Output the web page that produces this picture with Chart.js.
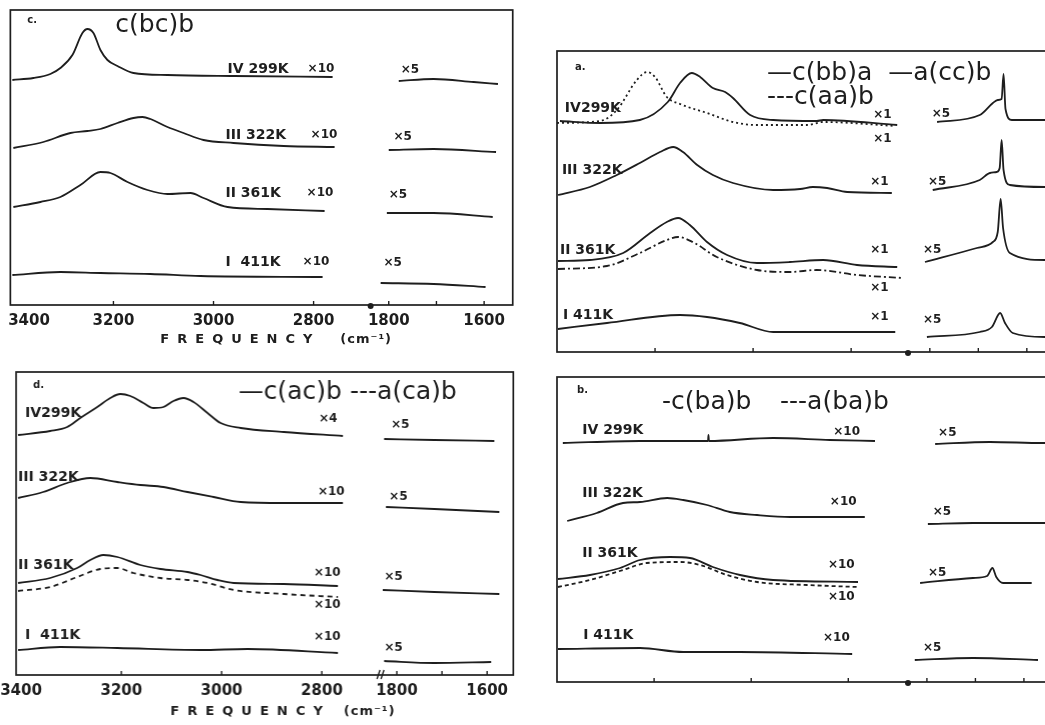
<!DOCTYPE html>
<html>
<head>
<meta charset="utf-8">
<title>Raman spectra c(bc)b, a, d, b</title>
<script src="https://cdn.jsdelivr.net/npm/chart.js@4.4.1/dist/chart.umd.min.js"></script>
<style>
  html, body { margin: 0; padding: 0; }
  body { width: 1045px; height: 725px; overflow: hidden; position: relative; background: #fff; }
  canvas { position: absolute; }
</style>
</head>
<body>
<canvas id="panel-c"></canvas>
<canvas id="panel-a"></canvas>
<canvas id="panel-d"></canvas>
<canvas id="panel-b"></canvas>
<script>
// tick values of the two parts of the broken frequency axis (cm-1)
const highTicks = [3400, 3200, 3000, 2800];
const lowTicks = [1800, 1700, 1600];

// spectra as [frequency, intensity incl. offset]
// panel c : c(bc)b
const cIV_hi = [[3402,225],[3360,227],[3326,231],[3306,237],[3282,250],[3262,272],[3252,276],[3240,272],[3226,255],[3212,245],[3192,239],[3160,232],[3092,230],[2960,229],[2762,228]];
const cIV_lo = [[1779,224],[1706,226],[1622,223],[1571,221]];
const cIII_hi = [[3400,157],[3340,163],[3286,172],[3252,174],[3226,176],[3192,182],[3160,187],[3142,188],[3126,186],[3092,178],[3060,172],[3020,165],[2960,162],[2860,159],[2758,158]];
const cIII_lo = [[1800,155],[1706,156],[1575,153]];
const cII_hi = [[3400,98],[3346,103],[3306,108],[3266,120],[3226,133],[3206,132],[3172,123],[3132,115],[3092,111],[3046,112],[3020,107],[2972,98],[2892,96],[2778,94]];
const cII_lo = [[1804,92],[1706,92],[1582,88]];
const cI_hi = [[3402,30],[3306,33],[3226,32],[3126,31],[3026,29],[2782,28]];
const cI_lo = [[1817,22],[1706,21],[1597,18]];

// panel a : c(bb)a, a(cc)b solid, c(aa)b dotted / dash-dot
const aIV_hi = [[3394,231],[3312,229],[3231,232],[3174,250],[3149,269],[3125,279],[3108,275],[3082,264],[3057,260],[3041,254],[3006,237],[2959,232],[2870,231],[2857,232],[2706,227]];
const aIVdot_hi = [[3400,229],[3312,231],[3278,242],[3237,272],[3216,280],[3200,275],[3176,255],[3149,248],[3094,239],[3041,230],[2992,227],[2890,227],[2857,230],[2710,226]];
const aIV_lo = [[1785,230],[1697,237],[1670,249],[1660,252],[1652,253],[1648,278],[1644,243],[1631,232],[1563,232],[1520,232]];
const aIII_hi = [[3398,157],[3333,165],[3278,177],[3231,189],[3190,200],[3163,205],[3143,200],[3114,187],[3082,177],[3041,169],[2959,162],[2904,163],[2878,165],[2849,164],[2808,160],[2717,159]];
const aIII_lo = [[1794,162],[1697,172],[1676,179],[1662,180],[1656,184],[1652,212],[1648,182],[1635,167],[1563,165],[1520,165]];
const aII_hi = [[3398,91],[3333,92],[3265,99],[3210,119],[3176,130],[3153,134],[3129,127],[3094,110],[3053,97],[2992,89],[2925,90],[2857,92],[2788,87],[2706,85]];
const aIIdd_hi = [[3398,83],[3298,86],[3231,99],[3176,112],[3153,115],[3123,110],[3074,95],[2992,82],[2925,80],[2870,82],[2788,77],[2694,74]];
const aII_lo = [[1810,90],[1703,104],[1670,110],[1660,120],[1654,153],[1649,124],[1635,99],[1563,92],[1520,92]];
const aI_hi = [[3398,23],[3298,29],[3149,37],[3094,35],[3027,29],[2959,20],[2710,20]];
const aI_lo = [[1806,15],[1697,20],[1672,25],[1655,39],[1645,29],[1629,19],[1563,15],[1520,15]];

// panel d : c(ac)b solid, a(ca)b dashed
const dIV_hi = [[3406,240],[3342,244],[3308,248],[3282,257],[3248,268],[3222,277],[3202,281],[3182,279],[3156,272],[3136,267],[3116,268],[3096,274],[3076,277],[3056,273],[3028,262],[3002,252],[2962,247],[2876,243],[2758,239]];
const dIV_lo = [[1828,236],[1717,235],[1584,234]];
const dIII_hi = [[3406,177],[3356,183],[3308,192],[3262,197],[3208,193],[3162,190],[3116,188],[3068,183],[3016,178],[2962,173],[2876,172],[2758,172]];
const dIII_lo = [[1824,168],[1717,166],[1573,163]];
const dII_hi = [[3406,92],[3342,97],[3288,107],[3262,115],[3236,120],[3208,118],[3162,110],[3122,106],[3068,103],[3042,100],[3008,95],[2976,92],[2876,91],[2768,89]];
const dIIdash_hi = [[3406,84],[3342,88],[3288,98],[3242,106],[3208,107],[3176,102],[3122,97],[3068,95],[3028,92],[2976,85],[2876,81],[2768,78]];
const dII_lo = [[1831,85],[1717,83],[1573,81]];
const dI_hi = [[3406,25],[3322,28],[3208,27],[3042,25],[2948,26],[2768,22]];
const dI_lo = [[1828,14],[1717,12],[1591,13]];

// panel b : c(ba)b solid, a(ba)b dashed
const bIV_hi = [[3388,239],[3229,241],[3095,241],[3089,241],[3088,247],[3087,241],[2955,244],[2838,242],[2745,241]];
const bIV_lo = [[1783,238],[1670,240],[1561,239],[1520,239]];
const bIII_hi = [[3379,161],[3318,169],[3264,179],[3229,180],[3173,184],[3140,182],[3091,177],[3044,170],[2988,167],[2920,165],[2766,165]];
const bIII_lo = [[1798,158],[1705,159],[1563,159],[1520,159]];
const bII_hi = [[3398,103],[3332,107],[3270,114],[3229,122],[3167,125],[3126,124],[3079,115],[3023,107],[2955,102],[2780,100]];
const bIIdash_hi = [[3398,95],[3332,102],[3264,112],[3215,119],[3147,120],[3105,117],[3050,107],[2988,100],[2885,97],[2780,95]];
const bII_lo = [[1814,99],[1705,104],[1676,106],[1665,114],[1657,105],[1643,99],[1584,99]];
const bI_hi = [[3398,33],[3229,34],[3140,30],[3023,30],[2792,28]];
const bI_lo = [[1825,22],[1705,24],[1571,22]];

const INK = '#1e1e1e';
const DOT = [2, 3];
const DASHDOT = [7, 3, 2, 3];
const DASH = [5, 4];

// panel layout: frame on the page, axis ranges, weights of the two axis parts
const panels = [
  {
    id: 'panel-c', box: {x: 10, y: 10, w: 502, h: 295}, hi: [2686, 3406], lo: [1540, 1838], weights: [360, 142],
    axisText: true, shiftFirst: true, breakMark: 'dot', tag: 'c.', tagPos: [17, 10],
    legend: [['c(bc)b', 105, 15]], freqPos: [150, 330, 35],
    traces: [[cIV_hi, 'xL'], [cIV_lo, 'xR'], [cIII_hi, 'xL'], [cIII_lo, 'xR'], [cII_hi, 'xL'], [cII_lo, 'xR'], [cI_hi, 'xL'], [cI_lo, 'xR']],
    labels: [
      ['IV 299K', 'xL', 2972, 236, 't'], ['×10', 'xL', 2812, 236, 'm'], ['×5', 'xR', 1775, 235, 'm'],
      ['III 322K', 'xL', 2976, 170, 't'], ['×10', 'xL', 2806, 170, 'm'], ['×5', 'xR', 1790, 168, 'm'],
      ['II 361K', 'xL', 2976, 112, 't'], ['×10', 'xL', 2814, 112, 'm'], ['×5', 'xR', 1800, 110, 'm'],
      ['I  411K', 'xL', 2976, 43, 't'], ['×10', 'xL', 2822, 43, 'm'], ['×5', 'xR', 1811, 42, 'm']
    ]
  },
  {
    id: 'panel-a', box: {x: 557, y: 51, w: 513, h: 301}, hi: [2684, 3400], lo: [1511, 1845], weights: [351, 162],
    axisText: false, breakMark: 'dot', tag: 'a.', tagPos: [18, 16],
    legend: [['—c(bb)a  —a(cc)b', 210, 22], ['---c(aa)b', 210, 46]],
    traces: [[aIV_hi, 'xL'], [aIVdot_hi, 'xL', DOT], [aIV_lo, 'xR'], [aIII_hi, 'xL'], [aIII_lo, 'xR'],
      [aII_hi, 'xL'], [aIIdd_hi, 'xL', DASHDOT], [aII_lo, 'xR'], [aI_hi, 'xL'], [aI_lo, 'xR']],
    labels: [
      ['IV299K', 'xL', 3384, 244, 't'], ['×1', 'xL', 2755, 237, 'm'], ['×1', 'xL', 2755, 213, 'm'], ['×5', 'xR', 1796, 238, 'm'],
      ['III 322K', 'xL', 3390, 182, 't'], ['×1', 'xL', 2761, 170, 'm'], ['×5', 'xR', 1804, 170, 'm'],
      ['II 361K', 'xL', 3394, 102, 't'], ['×1', 'xL', 2761, 102, 'm'], ['×1', 'xL', 2761, 64, 'm'], ['×5', 'xR', 1814, 102, 'm'],
      ['I 411K', 'xL', 3388, 37, 't'], ['×1', 'xL', 2761, 35, 'm'], ['×5', 'xR', 1814, 32, 'm']
    ]
  },
  {
    id: 'panel-d', box: {x: 16, y: 372, w: 496, h: 303}, hi: [2682, 3410], lo: [1542, 1835], weights: [364, 132],
    axisText: true, breakMark: 'slash', tag: 'd.', tagPos: [17, 13],
    legend: [['—c(ac)b ---a(ca)b', 222, 20]], freqPos: [154, 327, 37],
    traces: [[dIV_hi, 'xL'], [dIV_lo, 'xR'], [dIII_hi, 'xL'], [dIII_lo, 'xR'], [dII_hi, 'xL'], [dIIdash_hi, 'xL', DASH], [dII_lo, 'xR'], [dI_hi, 'xL'], [dI_lo, 'xR']],
    labels: [
      ['IV299K', 'xL', 3392, 262, 't'], ['×4', 'xL', 2806, 256, 'm'], ['×5', 'xR', 1813, 250, 'm'],
      ['III 322K', 'xL', 3406, 198, 't'], ['×10', 'xL', 2808, 183, 'm'], ['×5', 'xR', 1817, 178, 'm'],
      ['II 361K', 'xL', 3406, 110, 't'], ['×10', 'xL', 2816, 102, 'm'], ['×10', 'xL', 2816, 70, 'm'], ['×5', 'xR', 1828, 98, 'm'],
      ['I  411K', 'xL', 3392, 40, 't'], ['×10', 'xL', 2816, 38, 'm'], ['×5', 'xR', 1828, 27, 'm']
    ]
  },
  {
    id: 'panel-b', box: {x: 557, y: 377, w: 513, h: 305}, hi: [2677, 3400], lo: [1505, 1839], weights: [351, 162],
    axisText: false, breakMark: 'dot', tag: 'b.', tagPos: [20, 13],
    legend: [['-c(ba)b', 105, 25], ['---a(ba)b', 223, 25]],
    traces: [[bIV_hi, 'xL'], [bIV_lo, 'xR'], [bIII_hi, 'xL'], [bIII_lo, 'xR'], [bII_hi, 'xL'], [bIIdash_hi, 'xL', [4, 3]], [bII_lo, 'xR'], [bI_hi, 'xL'], [bI_lo, 'xR']],
    labels: [
      ['IV 299K', 'xL', 3348, 252, 't'], ['×10', 'xL', 2831, 250, 'm'], ['×5', 'xR', 1777, 249, 'm'],
      ['III 322K', 'xL', 3348, 189, 't'], ['×10', 'xL', 2838, 180, 'm'], ['×5', 'xR', 1788, 170, 'm'],
      ['II 361K', 'xL', 3348, 129, 't'], ['×10', 'xL', 2842, 117, 'm'], ['×10', 'xL', 2842, 85, 'm'], ['×5', 'xR', 1798, 109, 'm'],
      ['I 411K', 'xL', 3346, 47, 't'], ['×10', 'xL', 2852, 44, 'm'], ['×5', 'xR', 1808, 34, 'm']
    ]
  }
];

// frame, inward ticks, axis break, curve labels and titles
const deco = {
  id: 'deco',
  afterDraw(chart, args, o) {
    const {ctx, chartArea: a, scales} = chart;
    const p = o.panel;
    ctx.save();
    ctx.strokeStyle = INK;
    ctx.fillStyle = INK;
    ctx.lineWidth = 1.7;
    ctx.strokeRect(a.left, a.top, a.right - a.left, a.bottom - a.top);

    ctx.lineWidth = 1.4;
    ['xL', 'xR'].forEach(id => {
      const s = scales[id];
      s.ticks.forEach(t => {
        const px = s.getPixelForValue(t.value);
        if (px - a.left < 6) return;
        ctx.beginPath();
        ctx.moveTo(px, a.bottom);
        ctx.lineTo(px, a.bottom - 4);
        ctx.stroke();
      });
    });

    const bx = scales.xL.right;
    if (p.breakMark === 'dot') {
      ctx.beginPath();
      ctx.arc(bx, a.bottom + 1, 3, 0, Math.PI * 2);
      ctx.fill();
    } else {
      ctx.beginPath();
      ctx.moveTo(bx - 4, a.bottom + 4); ctx.lineTo(bx - 1, a.bottom - 5);
      ctx.moveTo(bx, a.bottom + 4); ctx.lineTo(bx + 3, a.bottom - 5);
      ctx.stroke();
    }

    ctx.textAlign = 'left';
    ctx.textBaseline = 'middle';
    p.labels.forEach(([text, axis, f, v, kind]) => {
      ctx.font = kind === 't' ? 'bold 14px "DejaVu Sans"' : 'bold 12px "DejaVu Sans"';
      ctx.fillText(text, scales[axis].getPixelForValue(f), scales.y.getPixelForValue(v));
    });

    ctx.font = 'bold 10px "DejaVu Sans"';
    ctx.fillText(p.tag, a.left + p.tagPos[0], a.top + p.tagPos[1]);

    ctx.font = '25px "DejaVu Sans"';
    p.legend.forEach(([text, dx, dy]) => ctx.fillText(text, a.left + dx, a.top + dy));

    if (p.freqPos) {
      const [fx, px, dy] = p.freqPos;
      ctx.font = 'bold 13px "DejaVu Sans"';
      ctx.letterSpacing = '8px';
      ctx.fillText('FREQUENCY', a.left + fx, a.bottom + dy);
      ctx.letterSpacing = '1px';
      ctx.fillText('(cm⁻¹)', a.left + px, a.bottom + dy);
      ctx.letterSpacing = '0px';
    }
    ctx.restore();
  }
};

function makePanel(p) {
  const canvas = document.getElementById(p.id);
  canvas.width = p.box.w + 50;
  canvas.height = p.box.h + (p.axisText ? 60 : 12);

  const datasets = p.traces.map(([pts, axis, dash]) => ({
    data: pts.map(([x, y]) => ({x, y})),
    xAxisID: axis,
    yAxisID: 'y',
    borderColor: INK,
    borderWidth: 1.8,
    borderDash: dash || [],
    pointRadius: 0,
    cubicInterpolationMode: 'monotone',
    fill: false
  }));

  const tickFont = {family: 'DejaVu Sans', size: 15, weight: 'bold'};
  const freqAxis = (range, weight, values) => ({
    type: 'linear',
    position: 'bottom',
    stack: 'freq',
    stackWeight: weight,
    min: range[0],
    max: range[1],
    reverse: true,
    afterBuildTicks: s => { s.ticks = values.map(v => ({value: v})); },
    grid: {display: false, drawTicks: false},
    border: {display: false},
    ticks: {
      display: p.axisText,
      font: tickFont,
      color: INK,
      padding: 7,
      maxRotation: 0,
      minRotation: 0,
      autoSkip: false,
      callback: v => v === 1700 ? '' : (v === 3400 && p.shiftFirst ? '      3400' : String(v))
    }
  });

  const chart = new Chart(canvas, {
    type: 'line',
    data: {datasets},
    options: {
      responsive: false,
      maintainAspectRatio: false,
      animation: false,
      events: [],
      layout: {padding: {left: 40, right: 10, top: 6, bottom: p.axisText ? 25 : 6}},
      scales: {
        xL: freqAxis(p.hi, p.weights[0], highTicks),
        xR: freqAxis(p.lo, p.weights[1], lowTicks),
        y: {type: 'linear', display: false, min: 0, max: p.box.h}
      },
      plugins: {legend: {display: false}, tooltip: {enabled: false}, deco: {panel: p}}
    },
    plugins: [deco]
  });

  // size the canvas so the plot frame matches the panel, then place it
  const ca = chart.chartArea;
  chart.resize(chart.width + p.box.w - (ca.right - ca.left), chart.height + p.box.h - (ca.bottom - ca.top));
  const cb = chart.chartArea;
  canvas.style.left = (p.box.x - cb.left) + 'px';
  canvas.style.top = (p.box.y - cb.top) + 'px';
}

panels.forEach(makePanel);
</script>
</body>
</html>
